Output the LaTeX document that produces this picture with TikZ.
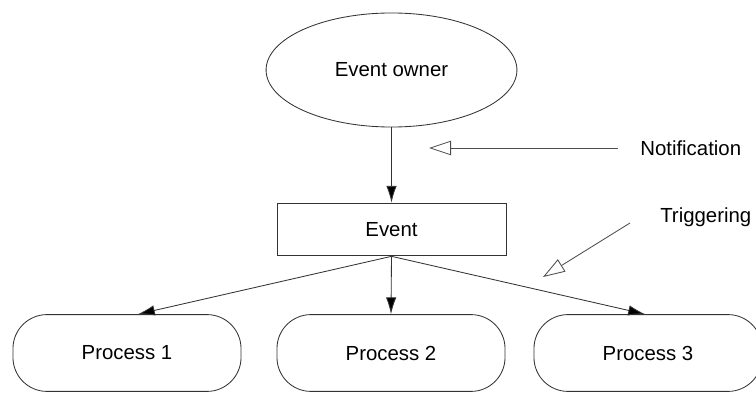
\documentclass[tikz,border=0pt]{standalone}
\usepackage{fontspec}
\setmainfont{Liberation Sans}
\usetikzlibrary{arrows.meta,shapes.geometric}
\tikzset{
  owner/.style={ellipse, draw=black!80, line width=0.6pt, minimum width=6.27cm, minimum height=2.85cm},
  eventbox/.style={rectangle, draw=black!80, line width=0.6pt, minimum width=5.72cm, minimum height=1.32cm},
  procbox/.style={rectangle, rounded corners=0.85cm, draw=black!80, line width=0.6pt, minimum width=5.7cm, minimum height=1.92cm},
  solid arrow/.style={draw=black!80, line width=0.6pt, -{Latex[length=0.42cm, width=0.26cm, fill=black]}},
  hollow arrow/.style={draw=black!70, line width=0.6pt, -{Triangle[open, length=0.55cm, width=0.36cm]}}
}
\begin{document}
\begin{tikzpicture}[x=0.025cm, y=-0.025cm, font=\fontsize{14.5}{17}\selectfont]
    \useasboundingbox (0,0) rectangle (756,394);
    %main nodes
    \node[owner] (owner) at (391.5,70) {Event owner};
    \node[eventbox] (event) at (391.5,229.5) {Event};
    \node[procbox] (p1) at (127,353) {Process 1};
    \node[procbox] (p2) at (391,353) {Process 2};
    \node[procbox] (p3) at (648,353) {Process 3};
    %labels
    \node[anchor=west, inner sep=0pt] (notif) at (640,148) {Notification};
    \node[anchor=west, inner sep=0pt] (trig) at (660,217) {Triggering};
    \coordinate (notiftip) at (429,148);
    \coordinate (trigtail) at (630,223);
    \coordinate (trigtip) at (543,277);
    %connectors
    \draw[solid arrow] (owner.south) -- (event.north);
    \draw[solid arrow] (event.south) -- (p1.north -| 138,0);
    \draw[solid arrow] (event.south) -- (p2.north);
    \draw[solid arrow] (event.south) -- (p3.north -| 645,0);
    \draw[hollow arrow, shorten <=22*0.025cm] (notif.west) -- (notiftip);
    \draw[hollow arrow] (trigtail) -- (trigtip);
\end{tikzpicture}
\end{document}
